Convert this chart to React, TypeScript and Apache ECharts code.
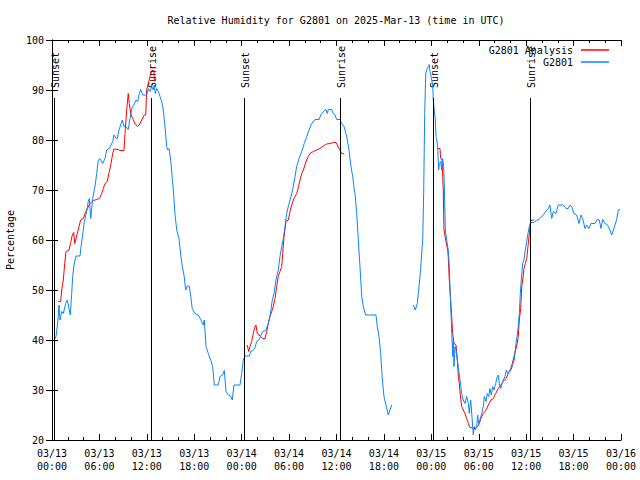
import React, { useEffect, useRef } from 'react';
import * as echarts from 'echarts';

const TITLE = 'Relative Humidity for G2801 on 2025-Mar-13 (time in UTC)';
const Y_NAME = 'Percentage';
const OBS_NAME = 'G2801';
const ANA_NAME = 'G2801 Analysis';

// x tick labels every 6 hours from 2025-03-13 00:00 UTC
const xTickLabels = [
  '03/13\n00:00', '03/13\n06:00', '03/13\n12:00', '03/13\n18:00',
  '03/14\n00:00', '03/14\n06:00', '03/14\n12:00', '03/14\n18:00',
  '03/15\n00:00', '03/15\n06:00', '03/15\n12:00', '03/15\n18:00',
  '03/16\n00:00',
];

// Observed (G2801): hours since 03/13 00:00 UTC, relative humidity %
const obsHours = [
  0.29, 0.51, 0.72, 0.89, 1.01, 1.23, 1.43, 1.73, 1.94, 2.15, 2.32, 2.49, 2.62, 2.78, 3.04, 3.54, 3.67, 3.88, 4.09, 4.39,
  4.59, 4.72, 4.9, 5.15, 5.35, 5.44, 5.66, 5.86, 6.07, 6.42, 6.71, 6.92, 7.25, 7.47, 7.68, 7.85, 8.1, 8.26, 8.48, 8.69,
  8.9, 9.11, 9.36, 9.65, 9.87, 10.16, 10.38, 10.63, 10.84, 11.05, 11.22, 11.48, 11.68, 11.98, 12.19, 12.4, 12.62, 12.82, 12.94, 13.07,
  13.25, 13.45, 13.67, 13.88, 14.08, 14.3, 14.51, 14.64, 14.8, 14.93, 15.06, 15.22, 15.35, 15.56, 15.78, 16.07, 16.29, 16.49, 16.7, 16.92,
  17.12, 17.37, 17.59, 17.75, 18.09, 18.51, 18.85, 19.14, 19.27, 19.49, 19.78, 20.08, 20.33, 20.54, 21.04, 21.26, 21.6, 21.8, 22.02, 22.31,
  22.61, 22.81, 23.03, 23.79, 24.0, 24.21, 24.42, 24.97, 25.14, 25.47, 25.69, 25.9, 26.23, 26.45, 26.66, 27.04, 27.37, 27.58, 27.88, 28.09,
  28.34, 28.63, 28.85, 29.07, 29.27, 29.48, 29.7, 29.9, 30.12, 30.33, 30.53, 30.75, 30.96, 31.25, 31.6, 31.92, 32.23, 32.52, 32.86, 33.28,
  33.82, 34.0, 34.33, 34.67, 34.84, 34.96, 35.39, 35.59, 35.81, 36.02, 36.44, 36.66, 36.95, 37.2, 37.37, 37.58, 37.83, 38.05, 38.25, 38.34,
  38.56, 38.76, 38.97, 39.19, 39.39, 39.69, 41.0, 41.16, 41.38, 41.59, 41.79, 42.01, 42.26, 42.55, 42.77, 42.98, 44.0,
  45.72, 45.97, 46.22, 46.35, 46.48, 46.65, 46.78, 46.91, 47.03, 47.16, 47.29, 47.41, 47.62, 47.74, 47.83, 47.92, 48.05, 48.17, 48.25, 48.37,
  48.5, 48.59, 48.68, 48.8, 48.93, 49.01, 49.18, 49.31, 49.44, 49.56, 49.64, 49.77, 49.94, 50.14, 50.27, 50.4, 50.49, 50.61, 50.7, 50.78,
  50.87, 51.0, 51.12, 51.29, 51.46, 51.63, 51.84, 52.04, 52.26, 52.47, 52.68, 52.8, 52.98, 53.14, 53.31, 53.44, 53.56, 53.74, 53.86, 53.99,
  54.16, 54.37, 54.58, 54.7, 54.92, 55.08, 55.26, 55.42, 55.59, 55.76, 55.93, 56.14, 56.35, 56.47, 56.6, 56.78, 56.94, 57.11, 57.32, 57.49,
  57.66, 57.86, 58.08, 58.29, 58.49, 58.71, 58.87, 59.0, 59.13, 59.26, 59.38, 59.56, 59.72, 59.89, 60.07, 60.23, 60.4, 60.57, 60.9, 61.33,
  61.75, 62.17, 62.6, 62.8, 63.01, 63.23, 63.43, 63.77, 64.06, 64.7, 65.04, 65.33, 65.55, 65.76, 66.05, 66.39, 66.68, 66.94, 67.15, 67.44,
  67.66, 67.95, 68.2, 68.71, 69.0, 69.25, 69.47, 69.68, 69.97, 70.26, 70.52, 70.82, 71.03, 71.24, 71.46, 71.66, 71.87,
];
const obsRH = [
  40, 40.7, 43.4, 47, 44, 45.7, 45.3, 47.3, 48, 46.3, 45, 49.3, 52.7, 55, 56.8, 56.8, 58.7, 61, 63.7, 65.7,
  67.7, 68.3, 64.3, 68.3, 70, 70.7, 73.3, 76, 76.3, 75.3, 76.3, 78, 78.3, 79, 79.7, 81, 80.3, 80.3, 82, 83,
  84, 82.7, 82.7, 82.1, 84.3, 86.7, 87, 88, 87.7, 89.3, 90.1, 89, 89, 89, 90.3, 89.7, 90.7, 90, 91, 89.3,
  90.3, 89.7, 88.7, 87.7, 86, 82.7, 78.7, 78, 78.3, 77, 75.3, 72.3, 70, 65.3, 62, 60.3, 57, 54.7, 53, 50,
  50.8, 50.8, 48.3, 46.3, 45.3, 45, 44, 43, 44, 38.7, 37.3, 36, 34.7, 31, 31, 32.7, 33, 33.9, 29.7, 29,
  28.8, 28, 31, 31, 33.3, 36, 36.8, 36.8, 37.7, 38, 38.5, 39.7, 40.1, 41, 41.7, 41.9, 43.3, 44.7, 48, 49.3,
  52, 54, 56.7, 58.7, 60.3, 62.7, 65.3, 66.7, 68, 69.3, 70.7, 72.7, 74.7, 76.3, 77.7, 79.3, 80.7, 82, 83.3, 84.1,
  84.1, 85, 85.7, 86.1, 85.3, 86.1, 86.1, 85.3, 85, 84.1, 84.1, 83.3, 82.7, 81.3, 80, 78, 74.7, 72.7, 70, 69.3,
  65.3, 60, 54.7, 48.7, 46.7, 45, 45, 42.7, 40.7, 37.3, 32.3, 28.7, 27, 25, 26, 27, null,
  47, 46, 47.3, 49.3, 51.3, 54.3, 57.3, 60, 69.3, 85.3, 93.3, 94, 94.7, 95.1, 93.7, 93, 92, 91, 88, 86,
  84.3, 80.7, 80, 78.7, 74, 75.3, 75.7, 74, 76.3, 74.7, 71.3, 62, 60, 58, 54.7, 48.7, 45.3, 40.7, 36.7, 40,
  34.7, 38.7, 38, 36, 34, 32, 29.3, 28, 27.3, 28.7, 27.3, 25.3, 28, 24.7, 21, 22.7, 22, 22.7, 25, 23.3,
  24, 25.3, 26.7, 28.7, 27.7, 29.3, 28.7, 30.3, 29, 30.7, 30, 31.3, 32.7, 33, 31.3, 30.3, 31.3, 32, 32.7, 34,
  33.3, 33.7, 34, 35, 36, 39.3, 41, 42.7, 45.3, 49.3, 52, 55.3, 56, 58, 59.7, 61.3, 62.7, 63.5, 63.5, 63.9,
  64.3, 65, 66, 66.3, 67, 64.3, 65.7, 65.3, 67, 67, 66.3, 66.3, 67, 66.7, 65.3, 65, 63.3, 65, 64.3, 62.3,
  63, 62.3, 63.3, 63.3, 64.1, 64, 62.3, 64.1, 63.3, 63.1, 62.3, 61, 62, 63, 64.1, 66, 66.1,
];

// Analysis (G2801 Analysis)
const anaHours = [
  0.8, 1.1, 1.23, 1.43, 1.61, 1.77, 2.15, 2.37, 2.57, 2.75, 2.87, 3.04, 3.2, 3.42, 3.63, 3.96, 4.18, 4.47, 4.81, 5.23,
  5.66, 5.99, 6.29, 6.49, 6.71, 7.0, 7.25, 7.47, 7.68, 7.85, 8.39, 8.6, 9.11, 9.24, 9.45, 9.65, 9.78, 9.96, 10.21, 10.5,
  10.79, 11.05, 11.35, 11.68, 11.86, 11.98, 12.19, 12.4, 12.62, 12.91, 12.94, 18.0,
  24.71, 24.89, 25.05, 25.27, 25.47, 25.69, 25.81, 25.98, 26.32, 26.66, 26.95, 27.17, 27.37, 27.58, 27.8, 28.0, 28.22, 28.43, 28.63, 28.85,
  29.07, 29.19, 29.36, 29.61, 29.9, 30.12, 30.33, 30.62, 30.96, 31.17, 31.38, 31.6, 31.8, 32.01, 32.23, 32.43, 32.65, 33.06, 33.49, 33.91,
  34.33, 34.76, 35.18, 35.59, 35.94, 36.1, 36.35, 36.66, 36.99, 42.0,
  48.75, 49.1, 49.18, 49.35, 49.44, 49.51, 49.6, 49.82, 50.07, 50.14, 50.27, 50.45, 50.57, 50.7, 50.87, 51.12, 51.29, 51.42, 51.54, 51.66,
  51.84, 52.04, 52.26, 52.47, 52.68, 52.89, 53.52, 53.86, 54.07, 54.28, 54.58, 54.92, 55.21, 55.55, 55.84, 56.14, 56.47, 56.78, 57.11, 57.44,
  57.74, 58.04, 58.25, 58.46, 58.67, 58.87, 59.0, 59.13, 59.31, 59.44, 59.56, 59.72, 59.89, 60.07, 60.23, 60.4, 60.57, 60.7, 60.99,
];
const anaRH = [
  47.7, 47.7, 50, 52, 55.3, 57.7, 58, 59.5, 61, 61.5, 59.3, 60.3, 61.3, 62.7, 64, 64.3, 65.3, 66.3, 67.3, 67.9,
  68.1, 68.3, 69.3, 70.3, 71.3, 71.7, 73.7, 75.3, 77.3, 78.2, 78.1, 77.9, 77.9, 81.3, 86, 89.3, 87.3, 85.3, 84.3, 83.3,
  82.7, 83, 84, 85, 85, 90, 91.3, 92.7, 93.9, 93.9, 91.7, null,
  39, 37.7, 38.7, 39.7, 41.3, 42.7, 43, 41.3, 40.8, 40.3, 40.3, 41.7, 43.3, 44.7, 45.7, 46.7, 48.3, 50.7, 52.7, 53.7,
  54.7, 57.3, 60.7, 63.7, 64, 65.7, 67, 68.3, 69.3, 70.5, 72, 73.3, 74, 75, 76, 76.7, 77.3, 77.7, 78, 78.3,
  78.8, 79.2, 79.3, 79.5, 79.5, 79, 78.3, 77.3, 77.2, null,
  78.3, 78.3, 76.3, 76, 72.7, 70, 62, 60, 58, 56.7, 52, 48, 44.7, 41.3, 39.3, 39, 36, 32.7, 31.3, 29,
  26.7, 26, 25.3, 24.3, 23.3, 22.5, 22.3, 22.7, 23.3, 24.3, 25.3, 26, 27, 28, 28.3, 29.3, 30.3, 31, 31.7, 32.3,
  33.3, 34.3, 35.3, 36.7, 38, 39.3, 40.7, 44, 46.3, 50.7, 52, 54.3, 55.3, 56.3, 58.7, 61.3, 63.7, 64, 64,
];

// Sunset / sunrise times (hours since 03/13 00:00 UTC)
const sunHours = [0.29, 12.62, 24.34, 36.47, 48.27, 60.55];
const sunNames = ['Sunset', 'Sunrise', 'Sunset', 'Sunrise', 'Sunset', 'Sunrise'];

// styling constants
const FONT = '"DejaVu Sans Mono", "Liberation Mono", monospace';
const RED = '#ff0000';
const BLUE = '#0a84ff';
const GRID = { left: 52, right: 19, top: 40, bottom: 40 };
const TITLE_CENTER_X = 331;
const SUN_LINE_TOP = 88.4; // value where the vertical marker line ends
const SUN_LABEL_BASE = 90.4; // value where the rotated label starts

const toData = (xs: number[], ys: (number | null)[]) =>
  xs.map((x, i) => [x, ys[i] === null ? '-' : ys[i]]);

export default function App() {
  const ref = useRef<HTMLDivElement>(null);

  useEffect(() => {
    if (!ref.current) return;
    const chart = echarts.init(ref.current, null, { renderer: 'svg' });
    const axisText = { color: '#000', fontFamily: FONT, fontSize: 10 };
    const baseX = {
      type: 'value',
      min: 0,
      max: 72,
      interval: 6,
      splitLine: { show: false },
      axisLine: { show: true, lineStyle: { color: '#000', width: 1 } },
      axisTick: { show: true, inside: true, length: 6, lineStyle: { color: '#000' } },
      minorTick: { show: true, splitNumber: 3, length: 3, lineStyle: { color: '#000' } },
    };
    const baseY = {
      type: 'value',
      min: 20,
      max: 100,
      interval: 10,
      splitLine: { show: false },
      axisLine: { show: true, lineStyle: { color: '#000', width: 1 } },
      axisTick: { show: true, inside: true, length: 6, lineStyle: { color: '#000' } },
    };
    const legendBase = {
      orient: 'horizontal',
      align: 'right',
      right: 31,
      padding: 0,
      icon: 'rect',
      itemWidth: 28,
      itemHeight: 1.5,
      selectedMode: false,
      textStyle: { color: '#000', fontFamily: FONT, fontSize: 10, padding: [0, 3, 0, 0] },
    };
    chart.setOption({
      animation: false,
      backgroundColor: '#ffffff',
      textStyle: { fontFamily: FONT },
      title: {
        text: TITLE,
        left: TITLE_CENTER_X,
        textAlign: 'center',
        top: 10,
        textStyle: { color: '#000', fontFamily: FONT, fontSize: 10, fontWeight: 'normal' },
      },
      grid: { ...GRID, containLabel: false, outerBoundsMode: 'none' },
      legend: [
        { ...legendBase, top: 45, data: [ANA_NAME] },
        { ...legendBase, top: 57, data: [OBS_NAME] },
      ],
      xAxis: [
        {
          ...baseX,
          position: 'bottom',
          axisLabel: {
            ...axisText,
            margin: 7,
            lineHeight: 13,
            formatter: (v: number) => xTickLabels[Math.round(v / 6)] ?? '',
          },
        },
        { ...baseX, position: 'top', axisLabel: { show: false } },
      ],
      yAxis: [
        {
          ...baseY,
          position: 'left',
          name: Y_NAME,
          nameLocation: 'middle',
          nameRotate: 90,
          nameGap: 36,
          nameTextStyle: { ...axisText },
          axisLabel: { ...axisText, margin: 8 },
        },
        { ...baseY, position: 'right', axisLabel: { show: false } },
      ],
      series: [
        {
          name: ANA_NAME,
          type: 'line',
          data: toData(anaHours, anaRH),
          showSymbol: false,
          symbol: 'none',
          connectNulls: false,
          lineStyle: { color: RED, width: 1 },
          itemStyle: { color: RED },
          emphasis: { disabled: true },
          silent: true,
        },
        {
          name: OBS_NAME,
          type: 'line',
          data: toData(obsHours, obsRH),
          showSymbol: false,
          symbol: 'none',
          connectNulls: false,
          lineStyle: { color: BLUE, width: 1 },
          itemStyle: { color: BLUE },
          emphasis: { disabled: true },
          silent: true,
          markLine: {
            silent: true,
            symbol: ['none', 'none'],
            label: { show: false },
            emphasis: { disabled: true },
            lineStyle: { color: '#000', width: 1, type: 'solid' },
            data: sunHours.map((t) => [{ coord: [t, 20] }, { coord: [t, SUN_LINE_TOP] }]),
          },
        },
      ],
    });

    const yBase = chart.convertToPixel({ yAxisIndex: 0 }, SUN_LABEL_BASE) as number;
    chart.setOption({
      graphic: sunHours.map((t, i) => {
        const px = chart.convertToPixel({ xAxisIndex: 0 }, t) as number;
        return {
          type: 'text',
          x: px + 1,
          y: yBase,
          rotation: Math.PI / 2,
          silent: true,
          style: {
            text: sunNames[i],
            fill: '#000',
            font: `10px ${FONT}`,
            textAlign: 'left',
            textVerticalAlign: 'middle',
            align: 'left',
            verticalAlign: 'middle',
          },
        };
      }),
    });

    return () => chart.dispose();
  }, []);

  return (
    <div
      ref={ref}
      style={{ position: 'absolute', left: 0, top: 0, width: 640, height: 480, background: '#fff' }}
    />
  );
}
